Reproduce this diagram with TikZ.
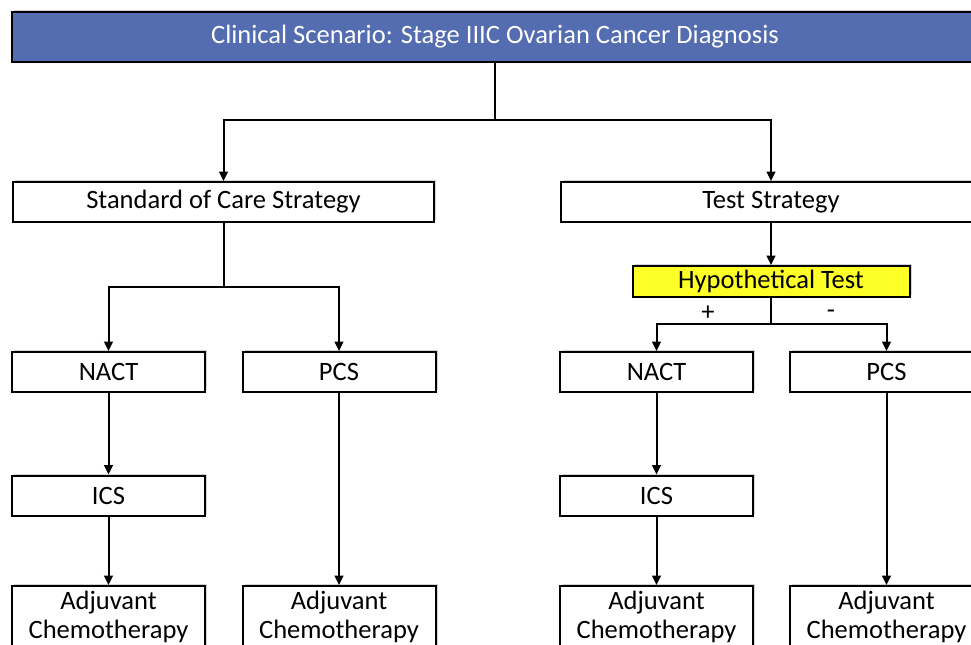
\documentclass[tikz,border=0pt]{standalone}
\usepackage{fontspec}
\setmainfont{Carlito}
\usetikzlibrary{arrows.meta,shadows}

\definecolor{scenarioblue}{RGB}{84,108,176}
\definecolor{testyellow}{RGB}{255,255,40}

\tikzset{every picture/.style={line width=1.5pt}}
\tikzset{
	box/.style={draw, line width=1.5pt, fill=white, inner sep=0pt,
		font=\fontsize{19.9}{22}\selectfont,
		drop shadow={opacity=0.35, shadow xshift=1.5pt, shadow yshift=1.5pt}},
	widebox/.style={box, minimum width=315.75pt, minimum height=30pt},
	smallbox/.style={box, minimum width=144.75pt, minimum height=30pt},
	adjbox/.style={smallbox, minimum height=46.5pt, align=center},
	scenariobox/.style={box, fill=scenarioblue, text=white, minimum width=724.5pt, minimum height=37.5pt},
	hypbox/.style={box, fill=testyellow, minimum width=207.75pt, minimum height=23.25pt},
	sign/.style={font=\fontsize{19.9}{22}\selectfont, inner sep=0pt},
	arr/.style={-{Triangle[length=7pt,width=6.5pt]}}
}

\begin{document}
\begin{tikzpicture}[x=0.75pt,y=0.75pt,yscale=-1,xscale=1]
	\useasboundingbox (0,0) rectangle (971,645);
	\clip (0,0) rectangle (971,645);

	% Text Node
	\node [scenariobox] (scenario) at (495,37) {Clinical Scenario: Stage IIIC Ovarian Cancer Diagnosis};
	% Text Node
	\node [widebox] (soc) at (223.5,202) {Standard of Care Strategy};
	% Text Node
	\node [widebox] (test) at (771,202) {Test Strategy};
	% Text Node
	\node [hypbox] (hyp) at (771,281.5) {Hypothetical Test};
	% Text Node
	\node [sign] (plus) at (708,313) {+};
	% Text Node
	\node [sign] (minus) at (831,314) {-};

	% Text Node
	\node [smallbox] (nactA) at (108.5,372) {NACT};
	% Text Node
	\node [smallbox] (pcsA) at (339,372) {PCS};
	% Text Node
	\node [smallbox] (nactB) at (656.5,372) {NACT};
	% Text Node
	\node [smallbox] (pcsB) at (886.5,372) {PCS};

	% Text Node
	\node [smallbox] (icsA) at (108.5,495.5) {ICS};
	% Text Node
	\node [smallbox] (icsB) at (656.5,495.5) {ICS};

	% Text Node
	\node [adjbox] (adjA) at (108.5,617) {Adjuvant\\Chemotherapy};
	% Text Node
	\node [adjbox] (adjB) at (339,617) {Adjuvant\\Chemotherapy};
	% Text Node
	\node [adjbox] (adjC) at (656.5,617) {Adjuvant\\Chemotherapy};
	% Text Node
	\node [adjbox] (adjD) at (886.5,617) {Adjuvant\\Chemotherapy};

	%Straight Lines
	\coordinate (splitTop) at (495,120);
	\coordinate (splitSoc) at (223.5,287);
	\coordinate (splitHyp) at (771,324);

	\draw (scenario.south) -- (splitTop);
	\draw [arr] (splitTop) -| (soc.north);
	\draw [arr] (splitTop) -| (test.north);

	\draw (soc.south) -- (splitSoc);
	\draw [arr] (splitSoc) -| (nactA.north);
	\draw [arr] (splitSoc) -| (pcsA.north);

	\draw [arr] (test.south) -- (hyp.north);
	\draw (hyp.south) -- (splitHyp);
	\draw [arr] (splitHyp) -| (nactB.north);
	\draw [arr] (splitHyp) -| (pcsB.north);

	\draw [arr] (nactA) -- (icsA);
	\draw [arr] (icsA) -- (adjA);
	\draw [arr] (pcsA) -- (adjB);
	\draw [arr] (nactB) -- (icsB);
	\draw [arr] (icsB) -- (adjC);
	\draw [arr] (pcsB) -- (adjD);

\end{tikzpicture}
\end{document}
